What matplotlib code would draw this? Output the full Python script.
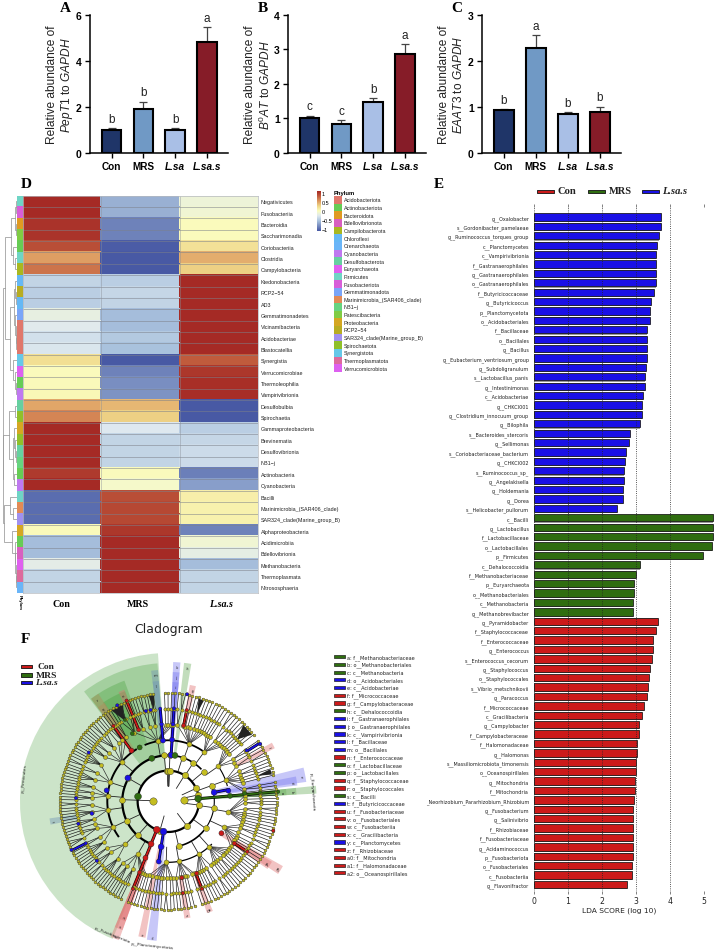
import numpy as np
import matplotlib
matplotlib.use('Agg')
import matplotlib.pyplot as plt
from matplotlib.colors import LinearSegmentedColormap

W, H = 716, 953
SANS = 'Liberation Sans'
SERIF = 'Liberation Serif'
plt.rcParams['mathtext.fontset'] = 'custom'
plt.rcParams['mathtext.it'] = 'Liberation Sans:italic'
plt.rcParams['mathtext.rm'] = 'Liberation Sans'

# bar panels
groups = ['Con', 'MRS', 'L.sa', 'L.sa.s']
bar_colors = ['#1f3568', '#7099c5', '#a9bfe6', '#861c28']
pept1 = [1.0, 1.9, 1.0, 4.82]
pept1_err = [0.06, 0.33, 0.06, 0.65]
pept1_sig = ['b', 'b', 'b', 'a']
b0at = [1.0, 0.84, 1.48, 2.87]
b0at_err = [0.08, 0.1, 0.1, 0.28]
b0at_sig = ['c', 'c', 'b', 'a']
eaat3 = [0.92, 2.28, 0.84, 0.88]
eaat3_err = [0.03, 0.28, 0.04, 0.12]
eaat3_sig = ['b', 'a', 'b', 'b']

# heatmap
heat_rows = ['Negativicutes', 'Fusobacteriia', 'Bacteroidia', 'Saccharimonadia', 'Coriobacteriia', 'Clostridia',
             'Campylobacteria', 'Ktedonobacteria', 'RCP2\u221254', 'AD3', 'Gemmatimonadetes', 'Vicinamibacteria',
             'Acidobacteriae', 'Blastocatellia', 'Synergistia', 'Verrucomicrobiae', 'Thermoleophilia',
             'Vampirivibrionia', 'Desulfobulbia', 'Spirochaetia', 'Gammaproteobacteria', 'Brevinematia',
             'Desulfovibrionia', 'NB1\u2212j', 'Actinobacteria', 'Cyanobacteria', 'Bacilli',
             'Marinimicrobia_(SAR406_clade)', 'SAR324_clade(Marine_group_B)', 'Alphaproteobacteria',
             'Acidimicrobiia', 'Bdellovibrionia', 'Methanobacteria', 'Thermoplasmata', 'Nitrososphaeria']
heat_con = [1, 1, .95, .95, .82, .48, .65, -.38, -.42, -.42, -.17, -.22, -.3, -.26, .2, .02, .03, .04, .45, .58,
            1, 1, 1, 1, .92, 1, -.9, -.9, -.9, .03, -.52, -.52, -.2, -.38, -.38]
heat_mrs = [-.58, -.58, -.8, -.8, -.98, -1, -1, -.42, -.36, -.38, -.52, -.52, -.45, -.5, -1, -.8, -.75, -.72, .38, .28,
            -.25, -.38, -.38, -.38, .02, -.05, .82, .85, .85, .93, 1, 1, 1, 1, 1]
heat_lsas = [-.12, -.1, .02, .02, .18, .42, .28, 1, 1, 1, 1, 1, 1, 1, .75, .93, .97, .98, -1, -1,
             -.42, -.36, -.33, -.33, -.82, -.67, .1, .08, .08, -.8, -.1, -.18, -.52, -.38, -.38]
phyla = ['Acidobacteriota', 'Actinobacteriota', 'Bacteroidota', 'Bdellovibrionota', 'Campilobacterota', 'Chloroflexi',
         'Crenarchaeota', 'Cyanobacteria', 'Desulfobacterota', 'Euryarchaeota', 'Firmicutes', 'Fusobacteriota',
         'Gemmatimonadota', 'Marinimicrobia_(SAR406_clade)', 'NB1\u2212j', 'Patescibacteria', 'Proteobacteria',
         'RCP2\u221254', 'SAR324_clade(Marine_group_B)', 'Spirochaetota', 'Synergistota', 'Thermoplasmatota',
         'Verrucomicrobiota']
phyla_colors = ['#e0776b', '#66cc55', '#e09a22', '#d85fc0', '#a9b81f', '#65b8f5', '#6ab5f8', '#bf78f0', '#66d0a0',
                '#df60ef', '#6fd5c5', '#d85ed8', '#7aa5f8', '#e28a55', '#66d480', '#80cc44', '#d5a722', '#b8ad22',
                '#a090f0', '#90c02a', '#66c8e8', '#dd6a9c', '#dd60f0']
row_phylum = [10, 11, 2, 15, 1, 10, 4, 5, 17, 5, 12, 0, 0, 0, 20, 22, 1, 7, 8, 19, 16, 19, 8, 14, 1, 7,
              10, 13, 18, 16, 1, 3, 9, 21, 6]
# (join position in px from the left, upper branch, lower branch)
dendro = (2.7,
          (5, (11, (14.5, (15.5, 0, 1), (15.5, 2, 3)), (12.5, 4, (15, 5, 6))),
           (10, (14, (15, 7, (15.5, 8, 9)), (15, 10, (15.5, 11, (16, 12, 13)))),
            (12.5, 14, (14.5, 15, (15.5, 16, 17))))),
          (3, (9, (15, 18, 19), (12.5, (14, 20, (15, 21, (15.5, 22, 23))), (13.5, 24, 25))),
           (4, (9.5, 26, (13, 27, 28)), (12, 29, (14.5, 30, (15, 31, (15.5, 32, (16, 33, 34))))))))

# LDA bars
lda_labels = ['g__Oxalobacter', 's__Gordonibacter_pamelaeae', 'g__Ruminococcus_torques_group', 'c__Planctomycetes',
              'c__Vampirivibrionia', 'f__Gastranaerophilales', 'g__Gastranaerophilales', 'o__Gastranaerophilales',
              'f__Butyricicoccaceae', 'g__Butyricicoccus', 'p__Planctomycetota', 'o__Acidobacteriales', 'f__Bacillaceae',
              'o__Bacillales', 'g__Bacillus', 'g__Eubacterium_ventriosum_group', 'g__Subdoligranulum',
              's__Lactobacillus_panis', 'g__Intestinimonas', 'c__Acidobacteriae', 'g__CHKCI001',
              'g__Clostridium_innocuum_group', 'g__Bilophila', 's__Bacteroides_stercoris', 'g__Sellimonas',
              's__Coriobacteriaceae_bacterium', 'g__CHKCI002', 's__Ruminococcus_sp_', 'g__Angelakisella', 'g__Holdemania',
              'g__Dorea', 's__Helicobacter_pullorum',
              'c__Bacilli', 'g__Lactobacillus', 'f__Lactobacillaceae', 'o__Lactobacillales', 'p__Firmicutes',
              'c__Dehalococcoidia', 'f__Methanobacteriaceae', 'p__Euryarchaeota', 'o__Methanobacteriales',
              'c__Methanobacteria', 'g__Methanobrevibacter',
              'g__Pyramidobacter', 'f__Staphylococcaceae', 'f__Enterococcaceae', 'g__Enterococcus',
              's__Enterococcus_cecorum', 'g__Staphylococcus', 'o__Staphylococcales', 's__Vibrio_metschnikovii',
              'g__Paracoccus', 'f__Micrococcaceae', 'c__Gracilibacteria', 'g__Campylobacter', 'f__Campylobacteraceae',
              'f__Halomonadaceae', 'g__Halomonas', 's__Massiliomicrobiota_timonensis', 'o__Oceanospirillales',
              'g__Mitochondria', 'f__Mitochondria', '_Neorhizobium_Pararhizobium_Rhizobium', 'g__Fusobacterium',
              'g__Salinivibrio', 'f__Rhizobiaceae', 'f__Fusobacteriaceae', 'g__Acidaminococcus', 'p__Fusobacteriota',
              'o__Fusobacteriales', 'c__Fusobacteriia', 'g__Flavonifractor']
lda_values = [3.75, 3.74, 3.68, 3.61, 3.59, 3.59, 3.59, 3.59, 3.52, 3.45, 3.41, 3.41, 3.34, 3.33, 3.33, 3.33, 3.29,
              3.27, 3.27, 3.21, 3.19, 3.17, 3.12, 2.84, 2.80, 2.70, 2.69, 2.66, 2.66, 2.63, 2.62, 2.46,
              5.25, 5.25, 5.25, 5.23, 4.98, 3.12, 3.0, 2.95, 2.94, 2.93, 2.93,
              3.66, 3.60, 3.51, 3.51, 3.47, 3.40, 3.39, 3.37, 3.32, 3.24, 3.19, 3.08, 3.08, 3.03, 3.03, 3.01, 3.01,
              2.96, 2.96, 2.95, 2.93, 2.93, 2.93, 2.93, 2.91, 2.91, 2.89, 2.89, 2.75]
lda_groups = [2] * 32 + [1] * 11 + [0] * 29
clade_colors = ['#cc1a1a', '#2f6d10', '#1a10e6']
clade_names = ['Con', 'MRS', 'L.sa.s']

# cladogram legend
clado_keys = ['a: f__Methanobacteriaceae', 'b: o__Methanobacteriales', 'c: c__Methanobacteria', 'd: o__Acidobacteriales',
              'e: c__Acidobacteriae', 'f: f__Micrococcaceae', 'g: f__Campylobacteraceae', 'h: c__Dehalococcoidia',
              'i: f__Gastranaerophilales', 'j: o__Gastranaerophilales', 'k: c__Vampirivibrionia', 'l: f__Bacillaceae',
              'm: o__Bacillales', 'n: f__Enterococcaceae', 'o: f__Lactobacillaceae', 'p: o__Lactobacillales',
              'q: f__Staphylococcaceae', 'r: o__Staphylococcales', 's: c__Bacilli', 't: f__Butyricicoccaceae',
              'u: f__Fusobacteriaceae', 'v: o__Fusobacteriales', 'w: c__Fusobacteriia', 'x: c__Gracilibacteria',
              'y: c__Planctomycetes', 'z: f__Rhizobiaceae', 'a0: f__Mitochondria', 'a1: f__Halomonadaceae',
              'a2: o__Oceanospirillales']
clado_key_groups = [1, 1, 1, 2, 2, 0, 0, 1, 2, 2, 2, 2, 2, 0, 1, 1, 0, 0, 1, 2, 0, 0, 0, 0, 2, 0, 0, 0, 0]

# cladogram rings, radius in the units of the tree, plus hand-read inner nodes (angle in degrees)
ring_phylum, ring_class, ring_order, ring_family, ring_genus, ring_species = 92, 138, 183, 230, 277, 325
kingdom_nodes = [178, 4]
phylum_nodes = [92, 90, 87.5, 58, 25, -7, -53, 254, 12]
class_nodes = [178, 150, 205, 228, 57, 40, 20, -8, -36, -77, 95, 88, 72]
order_nodes = [188, 162, 205, 140, 225, 175, 100, 70, 54, 35, 20, -10, -25, -48, -60, -80, -92, 240]
thick_arcs = [(ring_phylum, -100, 260, 1.6), (ring_class, 92, 247, 1.6), (ring_class, 80, 45, 1.2),
              (ring_class, -40, -77, 1.2), (ring_class, 22, -36, 0.8), (ring_order, 122, 215, 1.4),
              (ring_order, 112, 55, 1.3), (ring_order, -45, -92, 0.9), (ring_order, 35, 15, 0.8)]
# tree sectors: start, end, species per genus, genera per family
sector_start = [98, 92, 34, 10, -14, -76]
sector_end = [244, 38, 14, -12, -72, -112]
species_per_genus = ['1111211111311111111211111111111121111111111111211111111111311111111112111111111111',
                     '1111121111111111111211111111',
                     '11112111111',
                     '1111111121111',
                     '1111121111111111111111211111111',
                     '11111111211111111111']
genera_per_family = ['3234231423524323243132423423323',
                     '11112111121111111211',
                     '212121',
                     '2121221',
                     '111211112111111211112',
                     '1111211111112111']

# coloured LEfSe nodes: ring radius, angle, group
hit_ring = [92, 138, 183, 230, 277, 92, 138, 183, 230, 283, 92, 138, 183, 183, 232, 279, 139, 185, 232, 279, 188, 280,
            232, 327, 232, 279, 232, 281, 186, 235, 281, 327, 233, 279, 325, 278, 280, 325, 277, 232, 278, 279, 280,
            326, 279, 279, 326, 139, 186, 90, 140, 183, 230, 277, 331, 140, 188]
hit_angle = [171, 111, 118, 118, 118, 248, 248, 248, 248, 248, 261, 261, 261, 95, 95, 95, 86.5, 86.5, 86.5, 86.5, 126,
             126, 112.5, 112.5, 78.6, 78.6, -68.5, -69, -31, -32.5, -32.5, -15.6, -80, -81, 206.7, 207, 33, 32, 178,
             189, 194, 219.7, 148.5, 118, 104, 101, 80, 81.7, 5, 5, 11, 10, 6, 5.5, 5, 150, 170]
hit_group = [1, 1, 1, 1, 1, 0, 0, 0, 0, 0, 2, 2, 2, 2, 2, 2, 2, 2, 2, 2, 0, 0, 0, 0, 0, 0, 0, 0, 0, 0, 0, 0, 0, 0,
             2, 2, 2, 2, 2, 2, 2, 2, 2, 2, 2, 2, 2, 1, 1, 1, 2, 2, 1, 1, 1, 2, 2]
# coloured branches: angle, inner radius, outer radius, group
branch_angle = [248, 261, 95, 86.5, 112.5, 126, 78.6, -69, -32.5, 207, 32.5, 5, 11]
branch_r0 = [92, 92, 183, 139, 232, 188, 232, 232, 235, 278, 280, 90, 140]
branch_r1 = [283, 183, 280, 279, 327, 280, 279, 281, 281, 325, 325, 331, 188]
branch_group = [0, 2, 2, 2, 0, 0, 0, 0, 0, 2, 2, 1, 2]

# shaded clades: centre angle, width, inner and outer radius
wedge_angle = [171, 111, 118.5, 117.5]
wedge_width = [154, 33, 17, 12]
wedge_r0 = [92, 138, 183, 230]
wedge_r1 = [445, 415, 385, 355]
band_names = ['a', 'b', 'c', 'd', 'e', 'f', 'g', 'h', 'i', 'j', 'k', 'l', 'm', 'n', 'q', 'r', 't', 'u', 'v', 'w',
              'x', 'y', 'z', 'a0', 'a1', 'a2']
band_angle = [4.5, 4.5, 4.5, 9, 11, 28, 78, 82, 86.5, 86.5, 86.5, 96, 96, 113, 125, 125, 189.7, 248.7, 248.7, 248.7,
              259, 263.2, -80.7, -69.4, -32.3, -31.5]
band_width = [3, 3, 3, 4, 6, 3, 3, 3, 3, 3, 3, 3, 3, 3, 4, 4, 3, 3.5, 3.5, 3.5, 3, 4, 3, 3, 4, 4]
band_r0 = [90, 90, 90, 183, 140, 230, 230, 138, 230, 183, 140, 232, 183, 230, 230, 183, 277, 230, 183, 138, 138, 92,
           230, 230, 232, 185]
band_r1 = [355, 385, 445, 390, 418, 357, 355, 418, 358, 388, 418, 362, 395, 360, 352, 385, 360, 382, 410, 442,
           415, 420, 355, 355, 360, 395]
band_group = [1, 1, 1, 2, 2, 0, 0, 1, 2, 2, 2, 3, 3, 0, 4, 4, 3, 0, 0, 0, 0, 2, 0, 0, 0, 0]
band_colors = ['#e07070', '#6fb060', '#7a7af0', '#6f93b8', '#b08c5a']
dense_angle = [118.5, 42, 99, 72, 16]
dense_width = [7, 7, 3, 3, 3]


def px_axes(fig, x0, y0, x1, y1, **kw):
    return fig.add_axes([x0 / W, 1 - y1 / H, (x1 - x0) / W, (y1 - y0) / H], **kw)


def bar_panel(fig, x0, x1, values, errs, sig, ymax, yticks, gene):
    ax = px_axes(fig, x0, 16, x1, 153.7)
    pos = np.arange(4)
    ax.bar(pos, values, width=0.62, color=bar_colors, edgecolor='black', linewidth=1.5, zorder=3)
    ax.errorbar(pos, values, yerr=[[0] * 4, errs], fmt='none', ecolor='#444444', elinewidth=0.9, capsize=3,
                capthick=0.9, zorder=2)
    for p, v, e, s in zip(pos, values, errs, sig):
        ax.text(p, v + e + ymax * 0.025, s, ha='center', va='bottom', fontsize=8.5, family=SANS, color='#222222')
    ax.set_xlim(-0.68, 3.66)
    ax.set_ylim(0, ymax)
    ax.set_yticks(yticks)
    ax.set_xticks(pos)
    ax.set_xticklabels(groups, family=SANS, fontsize=7.2, fontweight='bold')
    ax.get_xticklabels()[2].set_style('italic')
    ax.get_xticklabels()[3].set_style('italic')
    for lab in ax.get_yticklabels():
        lab.set_family(SANS)
        lab.set_fontsize(7.5)
        lab.set_fontweight('bold')
    ax.tick_params(width=1.0, length=3.5, pad=2.5)
    for s in ['top', 'right']:
        ax.spines[s].set_visible(False)
    for s in ['left', 'bottom']:
        ax.spines[s].set_linewidth(1.1)
    ax.text(-0.275, 0.5, 'Relative abundance of', transform=ax.transAxes, rotation=90, ha='center', va='center',
            family=SANS, fontsize=8.6, color='#222222')
    ax.text(-0.167, 0.5, gene, transform=ax.transAxes, rotation=90, ha='center', va='center', family=SANS,
            fontsize=8.6, color='#222222')
    return ax


def draw_dendro(ax, node):
    if isinstance(node, int):
        return node + 0.5, 17
    x, up, down = node
    y0, x0 = draw_dendro(ax, up)
    y1, x1 = draw_dendro(ax, down)
    ax.plot([x0, x, x, x1], [y0, y0, y1, y1], color='#999999', lw=0.55, solid_joinstyle='miter')
    return (y0 + y1) / 2, x


def heatmap(fig, page):
    cmap = LinearSegmentedColormap.from_list('heat', [(0, '#4859a4'), (0.25, '#a9c2dd'), (0.38, '#dfe9ef'),
                                                      (0.5, '#fbfdc0'), (0.62, '#f0d98a'), (0.75, '#dd9a60'),
                                                      (0.88, '#c05a3c'), (1, '#a52a25')])
    ax = px_axes(fig, 22.7, 196.7, 258, 594)
    values = np.array([heat_con, heat_mrs, heat_lsas]).T
    ax.pcolormesh(values, cmap=cmap, vmin=-1, vmax=1, edgecolors='face', linewidth=0.2)
    # thin grey cell borders, drawn over the cells
    ax.hlines(np.arange(1, len(heat_rows)), 0, 3, color='#7d818a', lw=0.5, alpha=0.75)
    ax.vlines([1, 2], 0, len(heat_rows), color='#8a8f98', lw=0.5, alpha=0.6)
    ax.set_xlim(0, 3)
    ax.set_ylim(len(heat_rows), 0)
    ax.set_xticks([0.49, 1.47, 2.53])
    ax.set_xticklabels(clade_names, family=SERIF, fontweight='bold', fontsize=7.2)
    ax.get_xticklabels()[2].set_style('italic')
    ax.set_yticks(np.arange(len(heat_rows)) + 0.5)
    ax.set_yticklabels(heat_rows, family=SANS, fontsize=3.9, color='#222222')
    ax.yaxis.tick_right()
    ax.tick_params(length=0, pad=2)
    ax.tick_params(axis='x', pad=4)
    for s in ax.spines.values():
        s.set_color('#b5b9bf')
        s.set_linewidth(0.5)

    side = px_axes(fig, 17, 196.7, 22.7, 594)
    side.imshow(np.array([[matplotlib.colors.to_rgb(phyla_colors[i])] for i in row_phylum]), aspect='auto',
                extent=(0, 1, len(row_phylum), 0), interpolation='nearest')
    side.set_axis_off()

    tree = px_axes(fig, 0, 196.7, 17, 594)
    draw_dendro(tree, dendro)
    tree.set_xlim(0, 17)
    tree.set_ylim(len(heat_rows), 0)
    tree.set_axis_off()

    bar = px_axes(fig, 317, 192, 320.5, 232)
    bar.imshow(np.linspace(1, -1, 100)[:, None], cmap=cmap, vmin=-1, vmax=1, aspect='auto', extent=(0, 1, -1.1, 1.1))
    bar.set_xticks([])
    bar.yaxis.tick_right()
    bar.set_yticks([1, 0.5, 0, -0.5, -1])
    bar.set_yticklabels(['1', '0.5', '0', '\u22120.5', '\u22121'], family=SANS, fontsize=3.9)
    bar.tick_params(length=0, pad=1)
    for s in bar.spines.values():
        s.set_visible(False)

    page.text(19.5, 602, 'Phylum', rotation=270, ha='center', va='center', family=SANS, fontsize=3.1, fontweight='bold')
    page.text(334, 194, 'Phylum', va='center', family=SANS, fontsize=4.2, fontweight='bold')
    for i, (name, color) in enumerate(zip(phyla, phyla_colors)):
        y = 201 + 7.64 * i
        page.fill_between([334, 342], y - 3.82, y + 3.82, color=color, lw=0)
        page.text(343.5, y, name, va='center', family=SANS, fontsize=3.9, color='#222222')


def lda_panel(fig, page):
    ax = px_axes(fig, 533.7, 208, 704, 891.7)
    pos = np.arange(len(lda_values))
    colors = [clade_colors[g] for g in lda_groups]
    ax.barh(pos + 0.1, lda_values, height=0.82, color='#999999', lw=0, zorder=1, clip_on=False)
    ax.barh(pos, lda_values, height=0.78, color=colors, edgecolor='#141414', linewidth=0.55, zorder=2, clip_on=False)
    ax.set_xlim(0, 5)
    ax.set_ylim(len(lda_values) - 0.34, -1.06)
    ax.set_yticks(pos)
    ax.set_yticklabels(lda_labels, family='DejaVu Sans', fontsize=3.5, color='#222222')
    ax.tick_params(axis='y', length=0, pad=3.2)
    ax.set_xticks(range(6))
    ax.tick_params(axis='x', labelsize=5.6, length=2, width=0.4, pad=1.5, top=True, colors='#222222')
    ax.set_xlabel('LDA SCORE (log 10)', fontsize=5.4, labelpad=1.5, color='#222222')
    ax.grid(axis='x', color='#222222', ls=':', lw=0.6, zorder=5)
    ax.set_axisbelow(False)
    for s in ax.spines.values():
        s.set_visible(False)
    starts = [537, 588, 642]
    for start, color, name, style in zip(starts, clade_colors, clade_names, ['normal', 'normal', 'italic']):
        page.fill_between([start, start + 17], 190.5, 193.5, color=color, edgecolor='#111111', lw=0.6)
        page.text(start + 20.5, 192, name, va='center', family=SERIF, fontsize=7.6, fontweight='bold', style=style,
                  color='#222222')


def cladogram(fig, page):
    c_x, c_y, rmax = 168.3, 802.3, 160
    ax = px_axes(fig, c_x - rmax, c_y - rmax, c_x + rmax, c_y + rmax, projection='polar')
    ax.set_ylim(0, 480)
    ax.set_axis_off()
    ax.patch.set_alpha(0)
    rad = np.radians

    for a, w, r0, r1, al in zip(wedge_angle, wedge_width, wedge_r0, wedge_r1, [0.26, 0.28, 0.3, 0.3]):
        ax.bar(rad(a), r1 - r0, width=rad(w), bottom=r0, color='#3c9a30', alpha=al, lw=0, zorder=1)
    for name, a, w, r0, r1, g in zip(band_names, band_angle, band_width, band_r0, band_r1, band_group):
        ax.bar(rad(a), r1 - r0, width=rad(w), bottom=r0, color=band_colors[g], alpha=0.42, lw=0, zorder=1)
        ax.text(rad(a), r1 - 14, name, ha='center', va='center', fontsize=2.8, rotation=a - 90, color='#222222',
                zorder=7, rotation_mode='anchor')

    for r, a0, a1, lw in thick_arcs:
        t = rad(np.linspace(a0, a1, 120))
        ax.plot(t, np.full(t.size, r), color='black', lw=lw, zorder=3)

    fam_all, gen_all, spe_all = [], [], []
    for start, end, spg, gpf in zip(sector_start, sector_end, species_per_genus, genera_per_family):
        counts = [int(c) for c in spg]
        tips = np.linspace(start, end, sum(counts))
        genus = []
        k = 0
        for n in counts:
            kids = tips[k:k + n]
            genus.append(kids.mean())
            for t in kids:
                ax.plot(rad([genus[-1], t]), [ring_genus, ring_species], color='#111111', lw=0.45, zorder=2)
            k += n
        k = 0
        for n in [int(c) for c in gpf] + [1] * len(genus):
            kids = genus[k:k + n]
            if not kids:
                break
            fam = float(np.mean(kids))
            fam_all.append(fam)
            for t in kids:
                ax.plot(rad([fam, t]), [ring_family, ring_genus], color='#111111', lw=0.45, zorder=2)
            # family joins the closest order node
            near = min(order_nodes, key=lambda o: abs((o - fam + 180) % 360 - 180))
            ax.plot(rad([near, fam]), [ring_order, ring_family], color='#222222', lw=0.45, zorder=2)
            k += n
        gen_all += genus
        spe_all += list(tips)

    for a, w in zip(dense_angle, dense_width):
        ax.fill(rad([a, a - w / 2, a + w / 2]), [ring_genus, ring_species - 4, ring_species - 4], color='#222222',
                lw=0, zorder=2.5)

    for nodes, inner, outer in ((order_nodes, ring_class, ring_order), (class_nodes, ring_phylum, ring_class),
                                (phylum_nodes, 46, ring_phylum), (kingdom_nodes, 46, ring_phylum)):
        for a in nodes:
            ax.plot(rad([a, a]), [inner, outer], color='#222222', lw=0.6, zorder=2)

    for a, g, r0, r1 in zip(branch_angle, branch_group, branch_r0, branch_r1):
        ax.plot(rad([a, a]), [r0, r1], color='black', lw=2.1, zorder=4, solid_capstyle='butt')
        ax.plot(rad([a, a]), [r0, r1], color=clade_colors[g], lw=1.3, zorder=4.1, solid_capstyle='butt')

    node = dict(color='#c4bd20', edgecolors='#333333', linewidths=0.3, zorder=5)
    ax.scatter(rad(spe_all), np.full(len(spe_all), ring_species), s=4, **node)
    ax.scatter(rad(gen_all), np.full(len(gen_all), ring_genus), s=5.5, **node)
    ax.scatter(rad(fam_all), np.full(len(fam_all), ring_family), s=8, **node)
    ax.scatter(rad(order_nodes), np.full(len(order_nodes), ring_order), s=13, **node)
    ax.scatter(rad(class_nodes), np.full(len(class_nodes), ring_class), s=18, **node)
    ax.scatter(rad(phylum_nodes), np.full(len(phylum_nodes), ring_phylum), s=21, **node)
    ax.scatter(rad(kingdom_nodes), np.full(len(kingdom_nodes), 46), s=28, **node)
    sizes = [24 if r < 100 else 18 if r < 145 else 13 if r < 195 else 8 if r < 240 else 5.5 for r in hit_ring]
    ax.scatter(rad(hit_angle), hit_ring, s=sizes, c=[clade_colors[g] for g in hit_group], edgecolors='#222222',
               linewidths=0.3, zorder=6)

    page.text(169, 630, 'Cladogram', ha='center', va='center', family='DejaVu Sans', fontsize=9, color='#222222')
    for y, color, name, style in zip([667.3, 675.7, 683.3], clade_colors, clade_names, ['normal', 'normal', 'italic']):
        page.fill_between([21, 32], y - 1.8, y + 1.8, color=color, edgecolor='#111111', lw=0.6)
        page.text(46, y, name, ha='center', va='center', family=SERIF, fontsize=6.8, fontweight='bold', style=style,
                  color='#222222')
    page.text(24, 778, 'p__Firmicutes', rotation=84, ha='center', va='center', fontsize=3.1, color='#222222')
    page.text(312, 792, 'p__Euryarchaeota', rotation=-86, ha='center', va='center', fontsize=3.1, color='#222222')
    page.text(112, 935, 'p__Fusobacteriota', rotation=-22, ha='center', va='center', fontsize=3.1, color='#222222')
    page.text(152, 946, 'p__Planctomycetota', rotation=-6, ha='center', va='center', fontsize=3.1, color='#222222')
    for i, (name, g) in enumerate(zip(clado_keys, clado_key_groups)):
        y = 657.7 + 7.72 * i
        page.fill_between([334, 345], y - 1.6, y + 1.6, color=clade_colors[g], edgecolor='#111111', lw=0.45)
        page.text(347, y, name, va='center', fontsize=3.65, color='#222222')


fig = plt.figure(figsize=(W / 100, H / 100), dpi=100)
page = fig.add_axes([0, 0, 1, 1], zorder=10)
page.set_xlim(0, W)
page.set_ylim(H, 0)
page.set_axis_off()
page.patch.set_alpha(0)

bar_panel(fig, 90, 228, pept1, pept1_err, pept1_sig, 6, [0, 2, 4, 6], r'$\mathit{PepT1}$ to $\mathit{GAPDH}$')
bar_panel(fig, 288, 426, b0at, b0at_err, b0at_sig, 4, [0, 1, 2, 3, 4], r'$\mathit{B^0AT}$ to $\mathit{GAPDH}$')
bar_panel(fig, 482, 620.7, eaat3, eaat3_err, eaat3_sig, 3, [0, 1, 2, 3], r'$\mathit{EAAT3}$ to $\mathit{GAPDH}$')
heatmap(fig, page)
lda_panel(fig, page)
cladogram(fig, page)

for letter, x, y in [('A', 65, 8), ('B', 263, 8), ('C', 457, 8), ('D', 26, 184), ('E', 439, 184), ('F', 25, 640)]:
    page.text(x, y, letter, ha='center', va='center', family=SERIF, fontsize=11, fontweight='bold')

fig.savefig('out.png', dpi=100)
